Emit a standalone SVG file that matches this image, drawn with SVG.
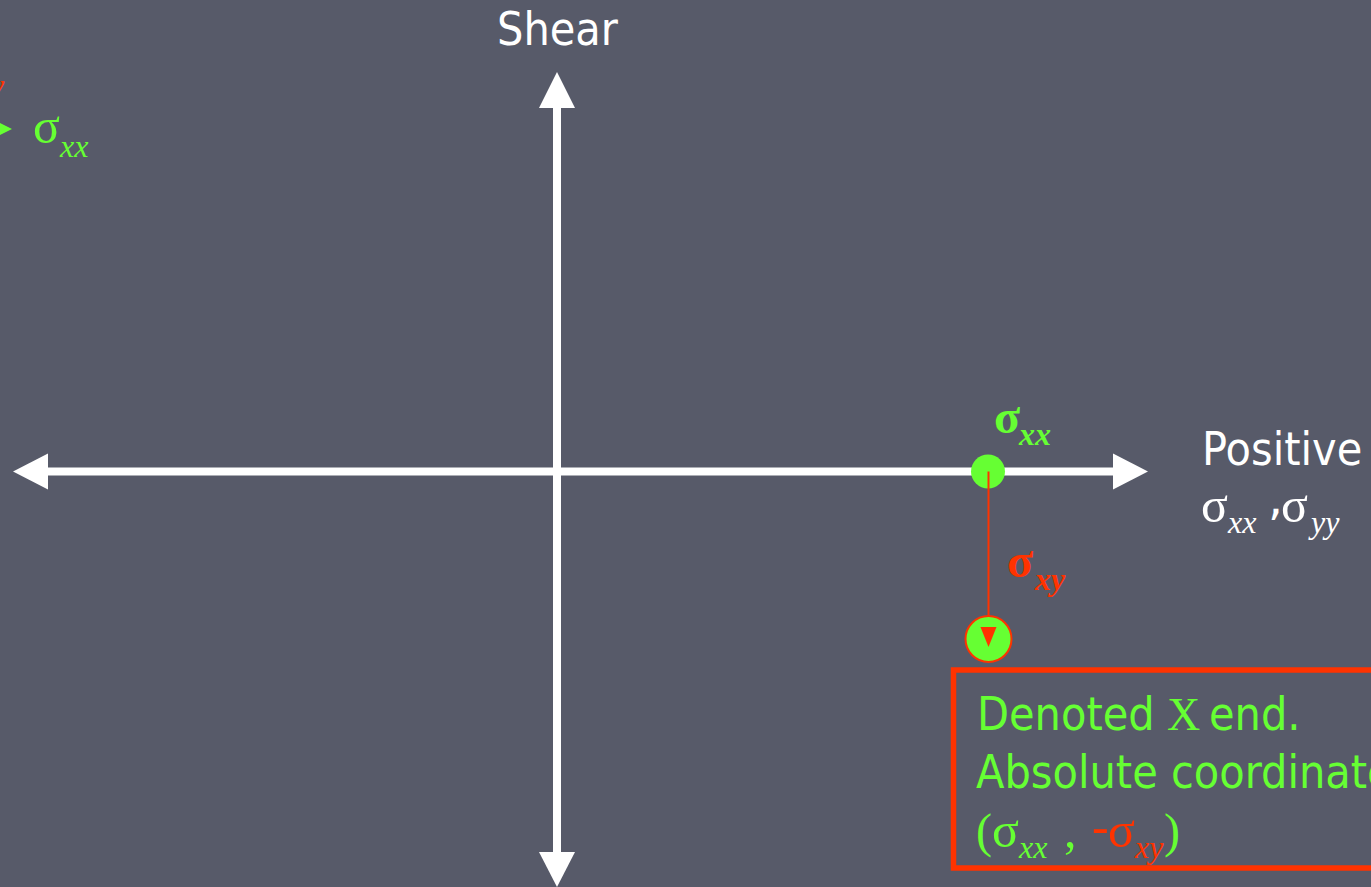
<svg xmlns="http://www.w3.org/2000/svg" width="1371" height="887" viewBox="0 0 1371 887">
  <defs>
    <style>
      .sans { font-family: "DejaVu Sans", "Liberation Sans", sans-serif; font-size: 47px; }
      .serif { font-family: "Liberation Serif", "DejaVu Serif", serif; }
      .sym { font-size: 50px; }
      .sub { font-size: 32px; font-style: italic; }
      .white { fill: #ffffff; }
      .green { fill: #66ff33; }
      .red { fill: #ff3300; }
      .axis { stroke: #ffffff; stroke-width: 8; fill: none; }
      .head { fill: #ffffff; }
    </style>
  </defs>

  <!-- slide background -->
  <rect x="0" y="0" width="1371" height="887" fill="#575a69"/>

  <!-- leftover element at the upper-left edge -->
  <g id="edge-label">
    <text class="serif sub red" x="-10" y="96">y</text>
    <polygon class="green" points="12,129 -2,122 -2,136"/>
    <text class="serif sym green" x="33" y="143">σ</text>
    <text class="serif sub green" x="60" y="157">xx</text>
  </g>

  <!-- axes with arrowheads -->
  <g id="connectors">
    <line class="axis" x1="46" y1="471.5" x2="1115" y2="471.5"/>
    <polygon class="head" points="13,471.5 48,453.5 48,489.5"/>
    <polygon class="head" points="1148,471.5 1113,453.5 1113,489.5"/>
    <line class="axis" x1="557" y1="106" x2="557" y2="854"/>
    <polygon class="head" points="557,72 539,108 575,108"/>
    <polygon class="head" points="557,887 539,852 575,852"/>
  </g>

  <!-- axis captions -->
  <g id="shear-label">
    <text class="sans white" transform="translate(497,45) scale(0.885,1)">Shear</text>
  </g>
  <g id="positive-label">
    <text class="sans white" transform="translate(1202,465) scale(0.885,1)">Positive</text>
    <text class="serif sym white" x="1201" y="522">σ</text>
    <text class="serif sub white" x="1228" y="533">xx</text>
    <text class="sans white" x="1268" y="515" font-size="30px">,</text>
    <text class="serif sym white" x="1281" y="522">σ</text>
    <text class="serif sub white" x="1311" y="533">yy</text>
  </g>

  <!-- normal stress point on the horizontal axis -->
  <g id="sigma-xx-point">
    <circle class="green" cx="988" cy="471.5" r="17"/>
    <text class="serif green" x="994" y="433" font-weight="bold" font-size="48px">σ</text>
    <text class="serif sub green" x="1019" y="445" font-weight="bold" font-size="34px">xx</text>
  </g>

  <!-- shear offset downwards to the X end -->
  <g id="shear-offset">
    <line x1="988.5" y1="471.5" x2="988.5" y2="630" stroke="#ff3300" stroke-width="2"/>
    <text class="serif red" x="1007" y="577" font-weight="bold" font-size="48px">σ</text>
    <text class="serif sub red" x="1035" y="590" font-weight="bold" font-size="33px">xy</text>
  </g>

  <g id="x-end-point">
    <circle cx="988.5" cy="639" r="23" fill="#66ff33" stroke="#ff3300" stroke-width="2"/>
    <polygon class="red" points="980.5,627 996.5,627 988.5,647"/>
  </g>

  <!-- annotation box -->
  <g id="x-end-note">
    <rect x="953.5" y="670" width="480" height="198" fill="none" stroke="#ff3300" stroke-width="5.5"/>
    <text class="sans green" transform="translate(977,730) scale(0.885,1)">Denoted</text>
    <text class="serif green" x="1167" y="730" font-size="46px">X</text>
    <text class="sans green" transform="translate(1209,730) scale(0.885,1)">end.</text>
    <text class="sans green" transform="translate(976,788) scale(0.885,1)">Absolute coordinates</text>
    <text class="serif green" x="976" y="847" font-size="48px">(</text>
    <text class="serif sym green" x="992" y="847">σ</text>
    <text class="serif sub green" x="1019" y="858">xx</text>
    <text class="serif sym green" x="1064" y="847">,</text>
    <text class="serif sym red" x="1092" y="843">-</text>
    <text class="serif sym red" x="1108" y="847">σ</text>
    <text class="serif sub red" x="1135" y="858">xy</text>
    <text class="serif green" x="1164" y="847" font-size="48px">)</text>
  </g>
</svg>
